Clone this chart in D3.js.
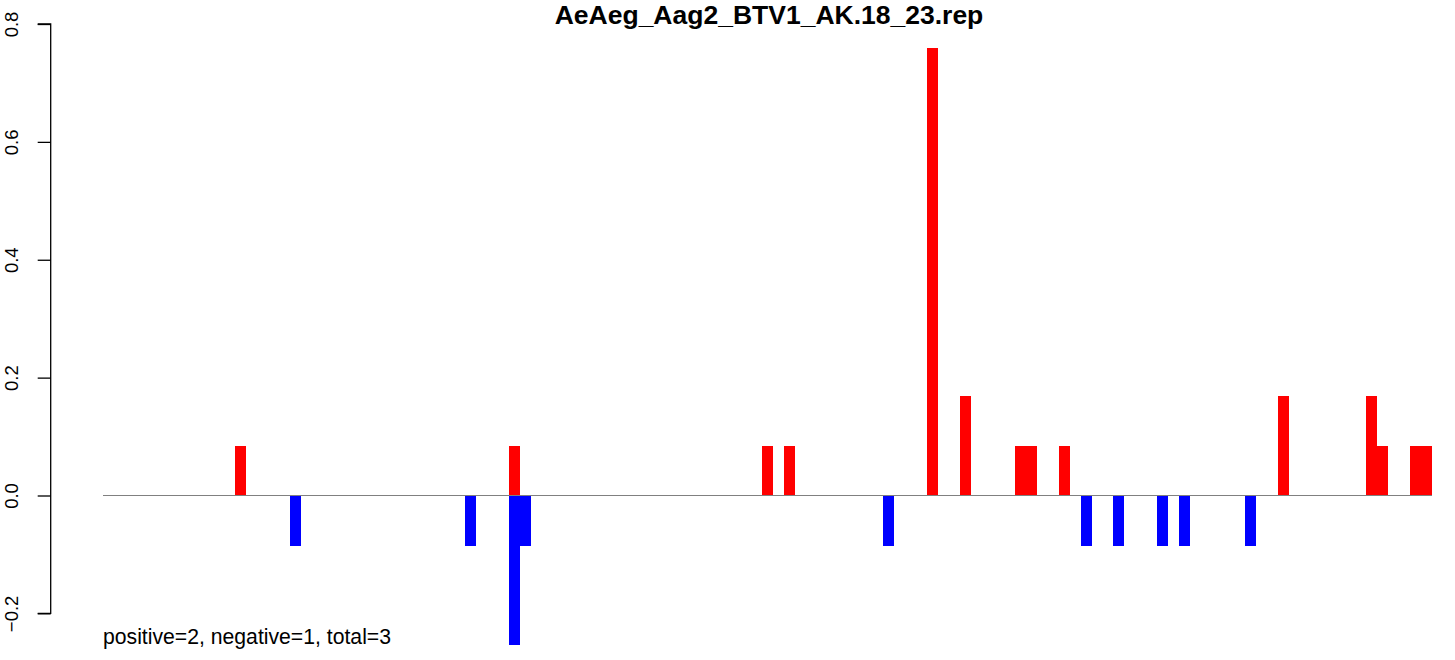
<!DOCTYPE html>
<html>
<head>
<meta charset="utf-8">
<script src="https://cdn.jsdelivr.net/npm/d3@7"></script>
<style>
  html, body { margin: 0; padding: 0; background: #ffffff; }
  svg { display: block; }
</style>
</head>
<body>
<script>
// ---- data ----
const title = "AeAeg_Aag2_BTV1_AK.18_23.rep";
const summaryText = "positive=2, negative=1, total=3";
const yTicks = [-0.2, 0.0, 0.2, 0.4, 0.6, 0.8];
const yTickLabels = ["\u22120.2", "0.0", "0.2", "0.4", "0.6", "0.8"];
// 121 bins (index 0..120)
const positive = [
  0,0,0,0,0,0,0,0,0,0, 0,0,0.084,0,0,0,0,0,0,0,
  0,0,0,0,0,0,0,0,0,0, 0,0,0,0,0,0,0,0.084,0,0,
  0,0,0,0,0,0,0,0,0,0, 0,0,0,0,0,0,0,0,0,0,
  0.084,0,0.084,0,0,0,0,0,0,0, 0,0,0,0,0,0.76,0,0,0.169,0,
  0,0,0,0.084,0.084,0,0,0.084,0,0, 0,0,0,0,0,0,0,0,0,0,
  0,0,0,0,0,0,0,0.169,0,0, 0,0,0,0,0,0.169,0.084,0,0,0.084,
  0.084
];
const negative = [
  0,0,0,0,0,0,0,0,0,0, 0,0,0,0,0,0,0,-0.085,0,0,
  0,0,0,0,0,0,0,0,0,0, 0,0,0,-0.085,0,0,0,-0.254,-0.085,0,
  0,0,0,0,0,0,0,0,0,0, 0,0,0,0,0,0,0,0,0,0,
  0,0,0,0,0,0,0,0,0,0, 0,-0.085,0,0,0,0,0,0,0,0,
  0,0,0,0,0,0,0,0,0,-0.085, 0,0,-0.085,0,0,0,-0.085,0,-0.085,0,
  0,0,0,0,-0.085,0,0,0,0,0, 0,0,0,0,0,0,0,0,0,0,
  0
];

// ---- layout ----
const W = 1455, H = 660;
const svg = d3.select("body").append("svg").attr("width", W).attr("height", H);

const n = positive.length;
const x = d3.scaleLinear().domain([0, n]).range([103, 1432]);
const y = d3.scaleLinear().domain([0, 0.8]).range([495.5, 24]);

// bars
function drawBars(vals, color) {
  svg.append("g").selectAll("rect")
    .data(vals.map((v, i) => ({ v, i })).filter(d => d.v !== 0))
    .join("rect")
    .attr("x", d => x(d.i))
    .attr("width", d => x(d.i + 1) - x(d.i))
    .attr("y", d => Math.min(y(d.v), y(0)))
    .attr("height", d => Math.abs(y(d.v) - y(0)))
    .attr("fill", color)
    .attr("shape-rendering", "crispEdges");
}
drawBars(positive, "#ff0000");
drawBars(negative, "#0000ff");

// baseline
svg.append("line")
  .attr("x1", x(0)).attr("x2", x(n))
  .attr("y1", y(0)).attr("y2", y(0))
  .attr("stroke", "#808080").attr("stroke-width", 1.2);

// y axis
const axisG = svg.append("g").attr("transform", "translate(50.7,0)");
const axis = d3.axisLeft(y).tickValues(yTicks).tickSize(13).tickFormat((d, i) => yTickLabels[i]);
axisG.call(axis);
axisG.select(".domain").attr("stroke", "#000").attr("stroke-width", 1.3)
  .attr("d", `M-13,${y(0.8)}H0V${y(-0.2)}H-13`);
axisG.selectAll(".tick line").attr("stroke", "#000").attr("stroke-width", 1.3);
axisG.selectAll(".tick text").remove();
axisG.selectAll(".tick").append("text")
  .attr("transform", "translate(-32.5,0) rotate(-90)")
  .attr("text-anchor", "middle")
  .attr("fill", "#000")
  .style("font-family", "'Liberation Sans', Arial, sans-serif")
  .style("font-size", "18.5px")
  .text((d, i) => yTickLabels[i]);

// title
svg.append("text")
  .attr("x", 769).attr("y", 24)
  .attr("text-anchor", "middle")
  .style("font-family", "'Liberation Sans', Arial, sans-serif")
  .style("font-weight", "bold")
  .style("font-size", "26.5px")
  .attr("fill", "#000")
  .text(title);

// summary text
svg.append("text")
  .attr("x", 103).attr("y", 644)
  .style("font-family", "'Liberation Sans', Arial, sans-serif")
  .style("font-size", "21.2px")
  .attr("fill", "#000")
  .text(summaryText);
</script>
</body>
</html>
